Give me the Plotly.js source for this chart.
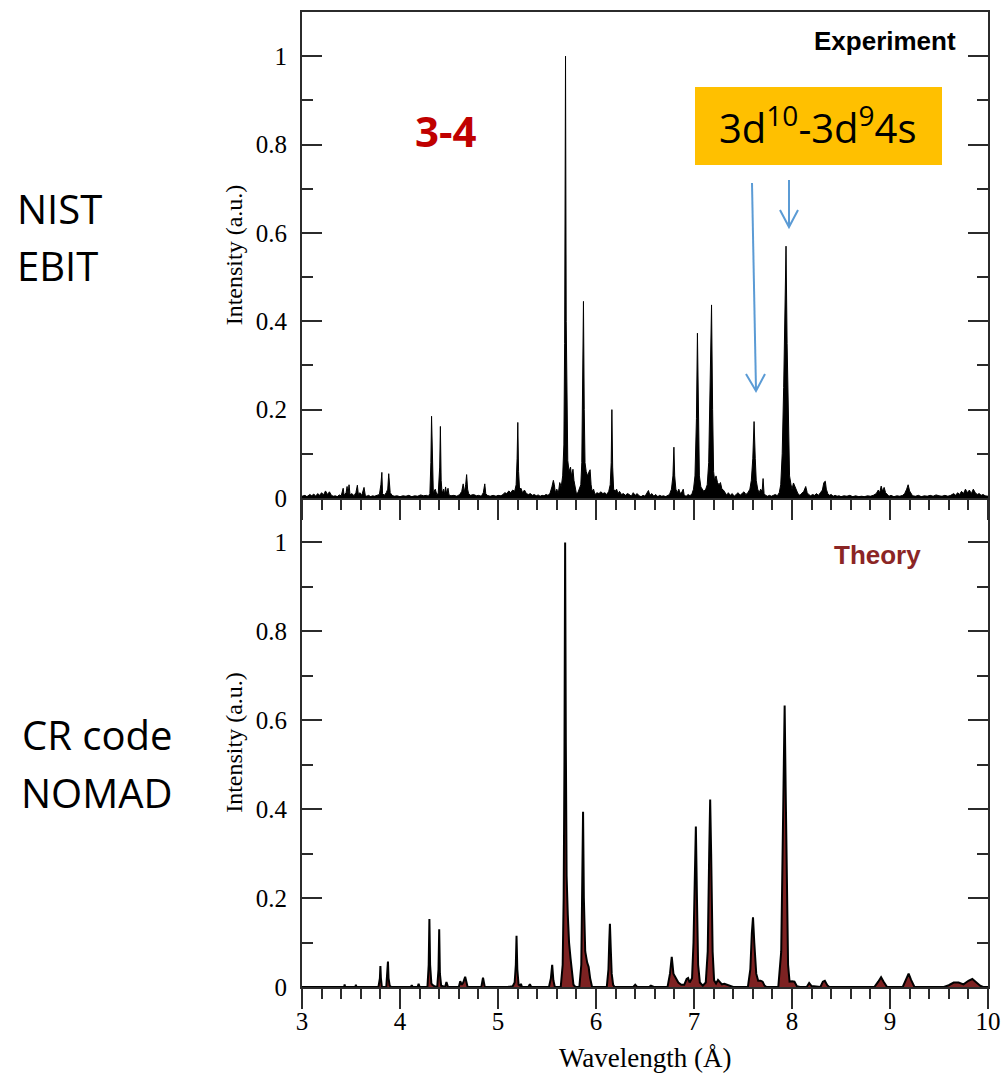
<!DOCTYPE html>
<html>
<head>
<meta charset="utf-8">
<script src="https://cdn.plot.ly/plotly-3.0.1.min.js"></script>
<style>html,body{margin:0;padding:0;background:#fff;}#chart{width:1006px;height:1076px;}</style>
</head>
<body>
<div id="chart"></div>
<script>
// Experiment spectrum (NIST EBIT): [wavelength (Å), intensity (a.u.)]
const experimentPoints = [
[3.00,0.004],[3.03,0.006],[3.05,0.003],[3.08,0.008],[3.10,0.005],[3.12,0.009],[3.14,0.004],[3.16,0.010],[3.18,0.006],[3.20,0.012],
[3.22,0.007],[3.24,0.016],[3.26,0.008],[3.28,0.014],[3.30,0.006],[3.32,0.004],[3.34,0.005],[3.36,0.003],[3.38,0.007],[3.40,0.005],
[3.42,0.022],[3.43,0.006],[3.45,0.012],[3.46,0.026],[3.47,0.008],[3.48,0.030],[3.49,0.007],[3.51,0.010],[3.53,0.005],[3.55,0.012],
[3.565,0.029],[3.575,0.008],[3.59,0.012],[3.61,0.006],[3.633,0.024],[3.645,0.007],[3.66,0.004],[3.68,0.006],[3.70,0.003],[3.72,0.005],
[3.74,0.004],[3.76,0.006],[3.79,0.008],[3.805,0.030],[3.815,0.058],[3.822,0.010],[3.84,0.006],[3.86,0.012],[3.875,0.020],[3.885,0.055],
[3.893,0.020],[3.90,0.012],[3.92,0.006],[3.94,0.004],[3.97,0.005],[4.00,0.003],[4.03,0.005],[4.06,0.004],[4.09,0.006],[4.12,0.003],
[4.15,0.005],[4.18,0.004],[4.21,0.007],[4.24,0.005],[4.27,0.006],[4.29,0.004],[4.305,0.010],[4.315,0.080],[4.322,0.185],[4.33,0.060],
[4.34,0.012],[4.36,0.020],[4.375,0.008],[4.39,0.010],[4.405,0.070],[4.412,0.162],[4.42,0.040],[4.43,0.010],[4.445,0.020],[4.455,0.008],
[4.465,0.025],[4.475,0.010],[4.49,0.022],[4.50,0.007],[4.52,0.005],[4.55,0.006],[4.58,0.004],[4.61,0.008],[4.63,0.015],[4.645,0.032],
[4.655,0.012],[4.67,0.030],[4.68,0.053],[4.69,0.020],[4.70,0.010],[4.72,0.006],[4.75,0.008],[4.78,0.005],[4.80,0.006],[4.83,0.004],
[4.85,0.012],[4.865,0.032],[4.875,0.010],[4.89,0.006],[4.92,0.004],[4.95,0.006],[4.98,0.004],[5.00,0.006],[5.03,0.005],[5.05,0.008],
[5.07,0.012],[5.09,0.010],[5.11,0.016],[5.13,0.012],[5.15,0.018],[5.17,0.015],[5.185,0.030],[5.195,0.090],[5.202,0.171],[5.21,0.060],
[5.22,0.020],[5.235,0.022],[5.25,0.012],[5.27,0.018],[5.29,0.010],[5.31,0.008],[5.33,0.010],[5.35,0.006],[5.37,0.008],[5.39,0.005],
[5.41,0.007],[5.43,0.004],[5.45,0.006],[5.47,0.005],[5.49,0.008],[5.51,0.006],[5.53,0.010],[5.55,0.025],[5.565,0.040],[5.575,0.030],
[5.585,0.012],[5.60,0.020],[5.615,0.010],[5.63,0.035],[5.645,0.025],[5.66,0.050],[5.672,0.120],[5.68,0.350],[5.689,1.000],[5.696,0.400],
[5.703,0.140],[5.712,0.085],[5.725,0.060],[5.74,0.070],[5.75,0.050],[5.765,0.065],[5.775,0.040],[5.79,0.020],[5.80,0.010],[5.815,0.012],
[5.83,0.020],[5.845,0.030],[5.855,0.080],[5.864,0.250],[5.872,0.445],[5.88,0.200],[5.888,0.080],[5.90,0.060],[5.915,0.050],[5.93,0.060],
[5.94,0.064],[5.95,0.030],[5.96,0.015],[5.975,0.020],[5.99,0.008],[6.01,0.012],[6.03,0.010],[6.05,0.014],[6.07,0.010],[6.09,0.012],
[6.11,0.008],[6.13,0.015],[6.145,0.030],[6.155,0.080],[6.162,0.200],[6.17,0.070],[6.18,0.020],[6.195,0.015],[6.21,0.020],[6.225,0.010],
[6.24,0.015],[6.26,0.008],[6.28,0.010],[6.30,0.006],[6.32,0.010],[6.34,0.008],[6.36,0.004],[6.38,0.012],[6.40,0.006],[6.42,0.010],
[6.44,0.005],[6.46,0.003],[6.48,0.006],[6.50,0.004],[6.52,0.012],[6.535,0.017],[6.55,0.006],[6.57,0.010],[6.59,0.004],[6.61,0.008],
[6.63,0.003],[6.65,0.006],[6.67,0.004],[6.69,0.005],[6.71,0.003],[6.73,0.006],[6.75,0.008],[6.77,0.020],[6.785,0.050],[6.795,0.115],
[6.803,0.050],[6.815,0.020],[6.83,0.012],[6.845,0.020],[6.86,0.010],[6.88,0.015],[6.89,0.020],[6.90,0.006],[6.92,0.004],[6.94,0.008],
[6.96,0.005],[6.98,0.010],[6.995,0.020],[7.01,0.050],[7.025,0.180],[7.035,0.373],[7.045,0.180],[7.055,0.050],[7.07,0.025],[7.085,0.020],
[7.10,0.015],[7.12,0.020],[7.135,0.030],[7.15,0.080],[7.165,0.250],[7.179,0.437],[7.19,0.200],[7.20,0.060],[7.21,0.040],[7.225,0.050],
[7.24,0.035],[7.255,0.030],[7.27,0.035],[7.285,0.020],[7.30,0.018],[7.32,0.010],[7.335,0.006],[7.35,0.012],[7.37,0.006],[7.39,0.010],
[7.41,0.004],[7.43,0.008],[7.45,0.012],[7.47,0.006],[7.49,0.010],[7.51,0.014],[7.53,0.008],[7.55,0.012],[7.57,0.020],[7.585,0.040],
[7.60,0.090],[7.613,0.173],[7.625,0.090],[7.635,0.040],[7.65,0.020],[7.665,0.012],[7.68,0.020],[7.695,0.015],[7.705,0.044],[7.715,0.010],
[7.73,0.006],[7.75,0.004],[7.77,0.006],[7.79,0.004],[7.81,0.006],[7.83,0.008],[7.85,0.005],[7.87,0.012],[7.885,0.030],[7.90,0.100],
[7.915,0.250],[7.925,0.400],[7.939,0.570],[7.95,0.350],[7.962,0.150],[7.975,0.050],[7.99,0.030],[8.00,0.020],[8.015,0.034],[8.03,0.025],
[8.045,0.018],[8.06,0.010],[8.08,0.006],[8.10,0.010],[8.12,0.015],[8.14,0.026],[8.155,0.012],[8.17,0.008],[8.19,0.005],[8.21,0.008],
[8.23,0.006],[8.25,0.010],[8.27,0.006],[8.29,0.012],[8.31,0.018],[8.325,0.035],[8.34,0.038],[8.35,0.020],[8.365,0.010],[8.38,0.006],
[8.40,0.008],[8.42,0.004],[8.44,0.006],[8.46,0.004],[8.48,0.005],[8.50,0.003],[8.53,0.005],[8.56,0.004],[8.59,0.006],[8.62,0.003],
[8.65,0.005],[8.68,0.003],[8.71,0.004],[8.74,0.003],[8.77,0.005],[8.80,0.004],[8.83,0.006],[8.86,0.010],[8.88,0.018],[8.895,0.012],
[8.91,0.027],[8.925,0.015],[8.94,0.024],[8.955,0.012],[8.97,0.008],[8.99,0.004],[9.01,0.006],[9.04,0.003],[9.07,0.005],[9.10,0.004],
[9.13,0.006],[9.15,0.010],[9.17,0.020],[9.185,0.030],[9.20,0.016],[9.215,0.010],[9.23,0.005],[9.26,0.004],[9.29,0.006],[9.32,0.003],
[9.35,0.005],[9.38,0.004],[9.41,0.006],[9.44,0.004],[9.47,0.007],[9.50,0.005],[9.53,0.004],[9.56,0.006],[9.59,0.004],[9.62,0.006],
[9.65,0.010],[9.67,0.006],[9.69,0.012],[9.71,0.008],[9.73,0.015],[9.75,0.010],[9.77,0.020],[9.79,0.012],[9.81,0.018],[9.83,0.010],
[9.85,0.020],[9.87,0.012],[9.89,0.008],[9.91,0.010],[9.93,0.006],[9.95,0.008],[9.97,0.005],[10.00,0.004]
];

// Theory spectrum (CR code NOMAD): [wavelength (Å), intensity (a.u.)]
const theoryPoints = [
[3.00,0],[3.43,0],[3.435,0.006],[3.44,0],[3.545,0],[3.55,0.005],[3.555,0],
[3.78,0],[3.795,0.02],[3.80,0.047],[3.805,0.02],[3.815,0],
[3.86,0],[3.872,0.03],[3.877,0.057],[3.883,0.02],[3.895,0.003],[3.91,0],
[4.11,0],[4.12,0.004],[4.13,0],[4.18,0],[4.19,0.007],[4.20,0],
[4.28,0],[4.293,0.05],[4.30,0.153],[4.307,0.05],[4.32,0.008],[4.33,0.005],[4.35,0.002],
[4.38,0],[4.393,0.04],[4.40,0.13],[4.407,0.03],[4.42,0.003],
[4.46,0],[4.474,0.011],[4.49,0],
[4.60,0],[4.615,0.013],[4.63,0.005],[4.645,0.01],[4.665,0.023],[4.68,0.003],[4.69,0],
[4.83,0],[4.847,0.021],[4.865,0],
[5.10,0],[5.15,0.002],[5.17,0.01],[5.182,0.05],[5.189,0.115],[5.197,0.04],[5.21,0.005],[5.225,0.003],[5.234,0.007],[5.245,0],
[5.31,0],[5.325,0.006],[5.34,0],
[5.52,0],[5.54,0.02],[5.553,0.05],[5.565,0.015],[5.58,0],
[5.64,0],[5.66,0.05],[5.67,0.2],[5.678,0.5],[5.685,1.0],[5.692,0.55],[5.70,0.25],[5.712,0.163],[5.725,0.1],[5.74,0.065],[5.755,0.03],[5.77,0.005],[5.79,0],
[5.83,0],[5.85,0.05],[5.86,0.2],[5.868,0.394],[5.876,0.2],[5.89,0.08],[5.91,0.055],[5.925,0.045],[5.94,0.02],[5.96,0],
[6.11,0],[6.127,0.04],[6.135,0.1],[6.142,0.142],[6.15,0.09],[6.16,0.03],[6.175,0.005],[6.19,0],
[6.38,0],[6.40,0.005],[6.42,0],[6.54,0],[6.56,0.003],[6.59,0],
[6.73,0],[6.755,0.03],[6.773,0.068],[6.79,0.03],[6.81,0.022],[6.84,0.01],[6.87,0.005],[6.90,0.005],[6.925,0.018],[6.94,0.02],[6.955,0.01],
[6.98,0.02],[6.995,0.1],[7.008,0.25],[7.019,0.361],[7.03,0.2],[7.042,0.05],[7.06,0.01],[7.09,0.003],
[7.12,0.01],[7.14,0.08],[7.155,0.3],[7.165,0.422],[7.175,0.3],[7.19,0.08],[7.205,0.015],[7.225,0.008],[7.245,0.016],[7.265,0.01],[7.285,0.006],[7.31,0.007],[7.34,0.005],[7.38,0.001],[7.40,0],
[7.55,0],[7.575,0.04],[7.59,0.12],[7.602,0.157],[7.615,0.1],[7.635,0.03],[7.655,0.014],[7.68,0.014],[7.70,0.012],[7.72,0.003],[7.74,0],
[7.86,0],[7.89,0.08],[7.905,0.3],[7.918,0.55],[7.925,0.633],[7.935,0.45],[7.948,0.2],[7.96,0.05],[7.975,0.012],[8.00,0.013],[8.025,0.012],[8.05,0.002],[8.08,0],
[8.15,0],[8.175,0.009],[8.20,0.002],[8.29,0],[8.315,0.012],[8.335,0.014],[8.36,0.004],[8.38,0],
[8.84,0],[8.88,0.012],[8.909,0.022],[8.935,0.012],[8.97,0],
[9.13,0],[9.165,0.018],[9.19,0.03],[9.215,0.016],[9.25,0],
[9.55,0],[9.60,0.004],[9.65,0.01],[9.70,0.01],[9.75,0.006],[9.80,0.014],[9.84,0.018],[9.88,0.01],[9.92,0.003],[9.95,0],[10.00,0]
];

const yTickVals = [0, 0.2, 0.4, 0.6, 0.8, 1];
const yTickText = ["0", "0.2", "0.4", "0.6", "0.8", "1"];
const xTickVals = [3, 4, 5, 6, 7, 8, 9, 10];
const xTickText = ["3", "4", "5", "6", "7", "8", "9", "10"];

const W = 1006, H = 1076;
const M = {l: 302, r: 18, t: 12, b: 89};
const PW = W - M.l - M.r, PH = H - M.t - M.b;
const px2x = p => (p - M.l) / PW;
const py2y = p => 1 - (p - M.t) / PH;
const split = py2y(498);

const serif = "Liberation Serif, Times New Roman, serif";
const axisCol = "#2b2b2b";

const traces = [
  {
    x: experimentPoints.map(p => p[0]), y: experimentPoints.map(p => p[1]),
    xaxis: "x2", yaxis: "y2", type: "scatter", mode: "lines",
    fill: "tozeroy", fillcolor: "#000000",
    line: {color: "#000000", width: 1}, hoverinfo: "x+y", showlegend: false
  },
  {
    x: theoryPoints.map(p => p[0]), y: theoryPoints.map(p => p[1]),
    xaxis: "x", yaxis: "y", type: "scatter", mode: "lines",
    fill: "tozeroy", fillcolor: "#7d2222",
    line: {color: "#000000", width: 2}, hoverinfo: "x+y", showlegend: false
  }
];

function yAxis(domain) {
  return {
    domain: domain, range: [0, 1.1], tickvals: yTickVals, ticktext: yTickText,
    ticks: "inside", ticklen: 20, tickwidth: 2, tickcolor: axisCol,
    minor: {tickvals: [0.1, 0.3, 0.5, 0.7, 0.9], ticks: "inside", ticklen: 11, tickwidth: 2, tickcolor: axisCol},
    showline: true, linewidth: 2, linecolor: axisCol, mirror: "ticks",
    showgrid: false, zeroline: false, ticklabelstandoff: 8,
    tickfont: {family: serif, size: 25, color: "#000"},
    title: {text: "Intensity (a.u.)", font: {family: serif, size: 24, color: "#000"}, standoff: 6},
    fixedrange: true
  };
}
function xAxis(anchor, showLabels) {
  return {
    anchor: anchor, range: [3, 10], tickvals: xTickVals, ticktext: xTickText,
    ticks: "outside", ticklen: 20, tickwidth: 2, tickcolor: axisCol,
    minor: {dtick: 0.2, ticks: "outside", ticklen: 10, tickwidth: 2, tickcolor: axisCol},
    showline: true, linewidth: 2, linecolor: axisCol, mirror: true,
    showgrid: false, zeroline: false, showticklabels: showLabels,
    ticklabelstandoff: showLabels ? -9 : 0,
    tickfont: {family: serif, size: 25, color: "#000"},
    fixedrange: true
  };
}

const sans = "Open Sans, Liberation Sans, sans-serif";
const arrowCol = "#5b9bd5";
const annotations = [
  {text: "NIST", xref: "paper", yref: "paper", x: px2x(15), y: py2y(208), xanchor: "left", yanchor: "middle", showarrow: false, font: {family: sans, size: 40, color: "#000"}},
  {text: "EBIT", xref: "paper", yref: "paper", x: px2x(15), y: py2y(265), xanchor: "left", yanchor: "middle", showarrow: false, font: {family: sans, size: 40, color: "#000"}},
  {text: "CR code", xref: "paper", yref: "paper", x: px2x(97), y: py2y(734), xanchor: "center", yanchor: "middle", showarrow: false, font: {family: sans, size: 40, color: "#000"}},
  {text: "NOMAD", xref: "paper", yref: "paper", x: px2x(97), y: py2y(792), xanchor: "center", yanchor: "middle", showarrow: false, font: {family: sans, size: 40, color: "#000"}},
  {text: "<b>3-4</b>", xref: "paper", yref: "paper", x: px2x(446), y: py2y(130), xanchor: "center", yanchor: "middle", showarrow: false, font: {family: sans, size: 42, color: "#c00000"}},
  {text: "<b>Experiment</b>", xref: "paper", yref: "paper", x: px2x(958), y: py2y(41), xanchor: "right", yanchor: "middle", showarrow: false, font: {family: "Liberation Sans, Arial, sans-serif", size: 26, color: "#000"}},
  {text: "<b>Theory</b>", xref: "paper", yref: "paper", x: px2x(923), y: py2y(555), xanchor: "right", yanchor: "middle", showarrow: false, font: {family: "Liberation Sans, Arial, sans-serif", size: 26, color: "#8b2525"}},
  {text: "3d<sup>10</sup>-3d<sup>9</sup>4s", xref: "paper", yref: "paper", x: px2x(818), y: py2y(126), xanchor: "center", yanchor: "middle", showarrow: false, font: {family: sans, size: 40, color: "#000"}},
  {text: "Wavelength (Å)", xref: "paper", yref: "paper", x: px2x(645), y: py2y(1058), xanchor: "center", yanchor: "middle", showarrow: false, font: {family: serif, size: 27, color: "#000"}}
];

function pt(px, py) { return px2x(px) + "," + py2y(py); }
const shapes = [
  {type: "rect", xref: "paper", yref: "paper", x0: px2x(695), x1: px2x(942), y0: py2y(165), y1: py2y(87), fillcolor: "#ffc000", line: {width: 0}, layer: "above"},
  // long arrow
  {type: "path", xref: "paper", yref: "paper", path: "M" + pt(752, 183) + "L" + pt(756, 390), line: {color: arrowCol, width: 2}, layer: "above"},
  {type: "path", xref: "paper", yref: "paper", path: "M" + pt(746, 374) + "L" + pt(756, 391) + "L" + pt(765, 374), line: {color: arrowCol, width: 2}, layer: "above"},
  // short arrow
  {type: "path", xref: "paper", yref: "paper", path: "M" + pt(789, 180) + "L" + pt(789, 226), line: {color: arrowCol, width: 2}, layer: "above"},
  {type: "path", xref: "paper", yref: "paper", path: "M" + pt(780, 210) + "L" + pt(789, 227) + "L" + pt(798, 210), line: {color: arrowCol, width: 2}, layer: "above"}
];

const layout = {
  width: W, height: H, margin: M,
  paper_bgcolor: "#ffffff", plot_bgcolor: "#ffffff",
  showlegend: false,
  xaxis: xAxis("y", true),
  yaxis: yAxis([0, split]),
  xaxis2: Object.assign(xAxis("y2", false), {matches: "x"}),
  yaxis2: yAxis([split, 1]),
  annotations: annotations, shapes: shapes
};

Plotly.newPlot("chart", traces, layout, {displayModeBar: false, staticPlot: true});
</script>
</body>
</html>
